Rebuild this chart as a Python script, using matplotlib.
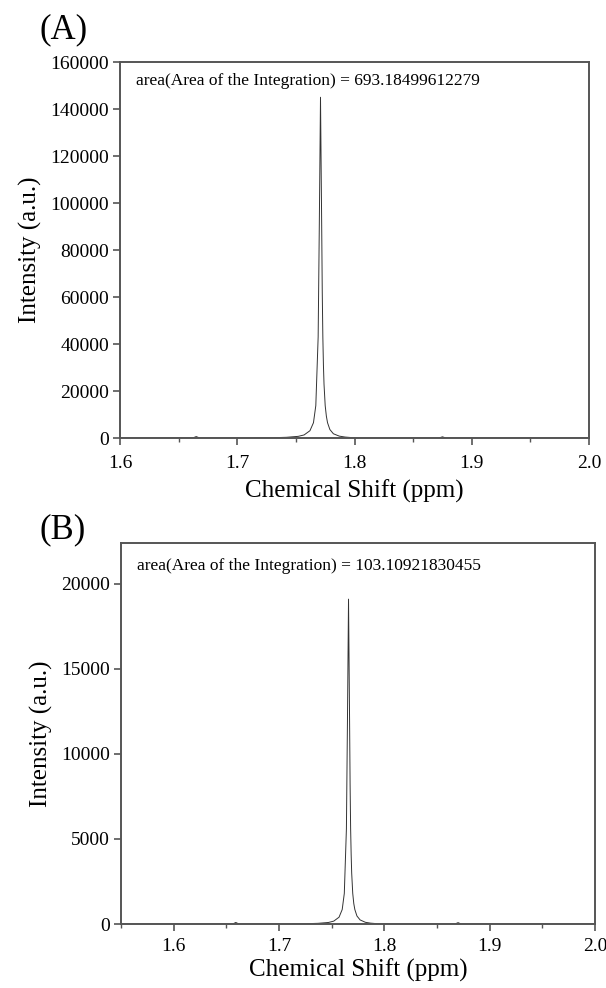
#!/usr/bin/env python3

import matplotlib.pyplot as plt
from matplotlib.ticker import MultipleLocator

plt.rcParams["font.family"] = ["Liberation Serif", "DejaVu Serif"]

# panel A spectrum (ppm, intensity)
SHIFT_A = [1.600, 1.650, 1.662, 1.665, 1.668, 1.700, 1.732, 1.742, 1.752, 1.757,
           1.762, 1.765, 1.767, 1.769, 1.770, 1.771, 1.772, 1.7725, 1.773, 1.7735,
           1.774, 1.775, 1.776, 1.777, 1.779, 1.782, 1.787, 1.792, 1.802, 1.850,
           1.872, 1.875, 1.878, 1.950, 2.000]
INT_A = [0, 0, 0, 600, 0, 0, 150, 300, 700, 1300,
         3100, 6500, 13800, 43000, 91200, 145000, 91200, 62200, 43000, 31000,
         22900, 13800, 9300, 6500, 3600, 1800, 800, 400, 0, 0,
         0, 500, 0, 0, 0]

# panel B spectrum
SHIFT_B = [1.550, 1.600, 1.656, 1.659, 1.662, 1.700, 1.727, 1.737, 1.747, 1.752,
           1.757, 1.760, 1.762, 1.764, 1.765, 1.766, 1.767, 1.7675, 1.768, 1.7685,
           1.769, 1.770, 1.771, 1.772, 1.774, 1.777, 1.782, 1.787, 1.797, 1.850,
           1.867, 1.870, 1.873, 1.950, 2.000]
INT_B = [0, 0, 0, 90, 0, 0, 20, 40, 90, 170,
         400, 850, 1800, 5600, 12000, 19100, 12000, 8200, 5600, 4100,
         3000, 1800, 1200, 850, 470, 240, 100, 50, 0, 0,
         0, 80, 0, 0, 0]

AREA_A = "693.18499612279"
AREA_B = "103.10921830455"

W, H = 606, 988
fig = plt.figure(figsize=(W / 100, H / 100), dpi=100)

def px_axes(left, top, right, bottom):
    return fig.add_axes([left / W, 1 - bottom / H, (right - left) / W, (bottom - top) / H])

def style(ax, xpad, lpad):
    for s in ax.spines.values():
        s.set_color("#555555")
        s.set_linewidth(1.4)
    ax.tick_params(which="major", direction="out", length=5, width=1.2,
                   color="#555555", labelsize=14, top=False, right=False, pad=3)
    ax.tick_params(axis="x", which="major", pad=xpad)
    ax.tick_params(which="minor", direction="out", length=3, width=1.0,
                   color="#555555", top=False, right=False)
    ax.tick_params(axis="y", which="minor", left=False)
    ax.set_xlabel("Chemical Shift (ppm)", fontsize=18, labelpad=lpad)
    ax.set_ylabel("Intensity (a.u.)", fontsize=18, labelpad=6)

# (A)
ax1 = px_axes(120, 62, 589, 438)
ax1.plot(SHIFT_A, INT_A, color="#333333", lw=0.7)
ax1.set_xlim(1.6, 2.0)
ax1.set_ylim(0, 160000)
ax1.xaxis.set_major_locator(MultipleLocator(0.1))
ax1.xaxis.set_minor_locator(MultipleLocator(0.05))
ax1.yaxis.set_major_locator(MultipleLocator(20000))
style(ax1, 7, 6)
ax1.text(0.035, 0.97, "area(Area of the Integration) = " + AREA_A,
         transform=ax1.transAxes, fontsize=12.5, va="top", ha="left")
fig.text(40 / W, 1 - 30 / H, "(A)", fontsize=25, va="center", ha="left")

# (B)
ax2 = px_axes(121, 543, 595, 924)
ax2.plot(SHIFT_B, INT_B, color="#333333", lw=0.7)
ax2.set_xlim(1.55, 2.0)
ax2.set_ylim(0, 22400)
ax2.xaxis.set_major_locator(MultipleLocator(0.1))
ax2.xaxis.set_minor_locator(MultipleLocator(0.05))
ax2.yaxis.set_major_locator(MultipleLocator(5000))
style(ax2, 5, 3)
ax2.text(0.033, 0.96, "area(Area of the Integration) = " + AREA_B,
         transform=ax2.transAxes, fontsize=12.5, va="top", ha="left")
fig.text(40 / W, 1 - 530 / H, "(B)", fontsize=25, va="center", ha="left")

fig.savefig("out.png", dpi=100)
